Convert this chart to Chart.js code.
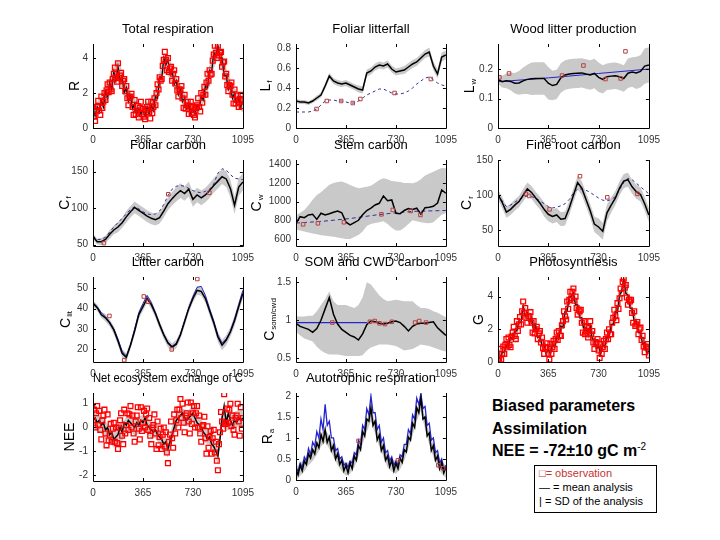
<!DOCTYPE html>
<html>
<head>
<meta charset="utf-8">
<title>Biased parameters - assimilation</title>
<script src="https://cdn.jsdelivr.net/npm/chart.js@4.4.1/dist/chart.umd.min.js"></script>
<style>
  body { margin:0; width:720px; height:540px; background:#fff; position:relative; overflow:hidden;
         font-family:"Liberation Sans", Arial, sans-serif; }
  canvas { position:absolute; }
  #note { position:absolute; left:492px; top:395px; font-size:16px; font-weight:bold; line-height:22.5px; color:#000; white-space:nowrap; }
  #note sup { font-size:10px; font-weight:normal; vertical-align:6px; line-height:0; }
  #key { position:absolute; left:534px; top:465px; width:123px; height:48px; box-sizing:border-box;
         border:1px solid #000; font-size:11px; line-height:14px; padding-left:4px; white-space:nowrap; }
</style>
</head>
<body>
<div id="note">Biased parameters<br>Assimilation<br>NEE = -72±10 gC m<sup>-2</sup></div>
<div id="key"><span style="color:#c83232">□= observation</span><br>— = mean analysis<br>| = SD of the analysis</div>
<script>
// x grid steps (days)
var MONTH = 1095 / 36, SEMI = 1095 / 72, DENSE = 1095 / 144;
var xTicks = [0, 365, 730, 1095];

// total respiration (semi-monthly mean, monthly band, dense obs)
var respMean = [1.1,0.7,1.2,0.9,1.6,1.2,2.1,1.7,2.6,2.2,3.2,2.7,3.5,2.7,2.9,2.0,2.3,1.5,1.8,1.1,1.4,0.8,1.1,0.8,1.0,
  0.7,1.2,0.8,1.3,1.0,1.8,1.7,2.9,2.8,4.0,3.6,3.9,3.1,3.3,2.5,2.7,1.9,2.2,1.5,1.7,1.1,1.3,0.8,1.1,
  0.8,1.3,1.1,1.8,1.6,2.4,2.3,3.3,3.2,4.3,4.1,4.7,4.0,4.0,3.0,3.0,2.2,2.4,1.7,2.0,1.4,1.7,1.2,1.5];
var respLo = [0.5,0.6,1.0,1.5,1.8,2.4,2.8,2.2,1.7,1.2,0.8,0.5,0.4,0.6,0.7,1.1,2.0,3.1,3.0,2.5,2.0,1.6,1.1,0.7,0.5,0.7,1.1,1.7,2.4,3.4,4.0,3.2,2.3,1.8,1.4,1.1,0.9];
var respHi = [1.4,1.5,1.9,2.4,2.9,3.5,3.9,3.3,2.6,2.1,1.7,1.4,1.3,1.5,1.6,2.2,3.2,4.3,4.2,3.6,3.0,2.5,2.0,1.6,1.4,1.6,2.1,2.8,3.6,4.6,4.8,4.4,3.4,2.8,2.3,2.0,1.8];
var respObs = [1.2,.65,.4,1.0,1.2,1.55,1.0,.75,1.8,1.15,1.5,2.0,1.6,2.15,2.5,2.05,2.6,2.2,2.1,2.8,3.1,3.45,2.9,2.65,3.7,2.85,3.0,3.15,2.4,2.7,2.8,2.1,
  2.4,1.7,1.3,1.75,1.8,1.95,1.2,.75,1.6,.8,1.0,1.25,.6,1.15,1.5,.8,1.1,.65,.5,1.05,1.2,1.5,.9,.55,1.5,.85,1.2,1.7,1.3,2.0,2.5,2.2,
  2.9,2.7,2.8,3.55,3.9,4.35,3.9,3.3,4.0,3.2,3.4,3.5,2.7,3.1,3.3,2.55,2.8,2.15,1.8,2.2,2.2,2.4,1.7,1.15,1.9,1.1,1.3,1.5,.8,1.25,1.5,.85,
  1.2,.75,.6,1.15,1.3,1.7,1.2,.95,2.0,1.45,1.9,2.35,1.9,2.6,3.1,2.7,3.3,3.05,3.1,3.85,4.2,4.7,4.3,4.0,4.7,4.15,4.3,4.35,3.5,3.75,3.8,2.95,
  3.1,2.45,2.1,2.45,2.4,2.6,1.9,1.4,2.2,1.4,1.6,1.85,1.2,1.65,1.9,1.25,1.6];

// foliar litterfall (monthly)
var lfMean = [.27,.26,.26,.25,.27,.30,.33,.42,.52,.47,.45,.44,.45,.43,.41,.39,.38,.55,.57,.61,.63,.62,.64,.59,.56,.57,.58,.61,.64,.66,.70,.74,.76,.62,.54,.71,.73];
var lfTrue = [.16,.16,.16,.16,.17,.19,.23,.27,.28,.28,.27,.27,.26,.25,.25,.27,.30,.33,.35,.37,.39,.39,.37,.35,.34,.34,.35,.37,.40,.44,.47,.50,.51,.48,.45,.43,.42];
var lfSd = [.02,.02,.02,.02,.02,.025,.025,.03,.03,.03,.03,.03,.03,.03,.03,.035,.035,.035,.035,.035,.035,.035,.035,.035,.035,.035,.04,.04,.04,.04,.04,.04,.045,.045,.045,.045,.045];
var lfObsDay = [150,225,330,415,470,720,985];
var lfObsVal = [0.19,0.27,0.27,0.25,0.29,0.35,0.49];

// wood litter production (monthly)
var wlMean = [.165,.157,.16,.158,.152,.153,.16,.165,.167,.168,.168,.168,.152,.144,.148,.17,.18,.183,.185,.186,.187,.183,.18,.185,.172,.165,.174,.176,.177,.174,.168,.186,.19,.187,.192,.21,.214];
var wlSd = [.015,.02,.025,.03,.035,.04,.045,.05,.055,.055,.055,.055,.055,.05,.05,.05,.05,.05,.05,.05,.05,.05,.05,.05,.05,.048,.045,.045,.045,.045,.045,.05,.05,.055,.055,.06,.06];
var wlTrueDay = [0,365,730,1095];
var wlTrueVal = [0.157,0.17,0.185,0.2];
var wlObsDay = [10,80,465,620,780,890,925];
var wlObsVal = [0.172,0.185,0.178,0.212,0.166,0.168,0.26];

// foliar carbon (monthly)
var cfMean = [61,54,54,57,64,70,74,80,88,95,101,97,93,89,86,84,87,96,106,113,119,124,120,126,112,118,114,118,124,131,137,143,140,127,104,129,136];
var cfTrue = [62,57,57,60,67,74,80,86,92,98,102,99,95,92,91,92,96,105,117,126,130,131,130,127,124,122,121,123,126,133,148,154,152,146,141,140,139];
var cfSd = [4,4,5,5,6,6,7,7,8,8,8,8,8,8,8,8,8,9,9,9,10,10,10,10,10,10,10,10,10,10,10,10,11,12,12,12,12];
var cfObsDay = [80,550,850];
var cfObsVal = [52,119,121];

// stem carbon (monthly)
var cwMean = [768,839,828,857,864,810,875,857,870,886,900,880,780,750,775,800,860,905,930,964,982,1060,1010,1018,875,870,905,925,915,929,865,935,940,950,985,1125,1089];
var cwLo = [700,690,680,670,660,650,640,635,630,625,615,607,600,600,620,643,680,740,760,770,780,790,760,720,690,690,720,760,800,790,780,770,768,780,820,860,875];
var cwHi = [850,880,910,960,1020,1070,1100,1140,1180,1200,1210,1214,1200,1178,1160,1143,1150,1160,1170,1200,1230,1250,1240,1220,1214,1210,1200,1200,1196,1210,1240,1280,1300,1320,1340,1360,1357];
var cwTrueDay = [0,200,400,600,730,850,1095];
var cwTrueVal = [770,790,820,860,880,895,905];
var cwObsDay = [52,160,350,624,707,838,909];
var cwObsVal = [757,768,779,864,911,900,857];

// fine root carbon (monthly)
var crMean = [101,90,76,80,86,91,100,109,104,96,89,80,73,70,72,66,67,82,100,118,110,94,78,59,55,49,75,86,96,110,120,122,112,105,101,88,72];
var crTrue = [101,92,84,86,90,94,97,99,98,96,92,88,84,82,83,85,88,94,103,109,109,107,104,100,96,93,92,94,98,108,118,124,122,117,112,107,102];
var crSd = [7,8,8,8,8,8,9,9,9,9,9,10,10,10,10,10,10,10,10,10,10,10,10,11,12,12,12,11,10,10,10,10,10,10,10,10,10];
var crObsDay = [202,226,374,595,793,1012];
var crObsVal = [102,99,80,127,97,102];

// litter carbon (monthly)
var clitMean = [42.6,40.5,37,35.5,33,29.5,24,18,16,22,29,37,41,45,42,37.5,32,27,23,21,22.5,27,33.5,40,45,49,48.5,45,39,33,26,22,24.5,28.5,34,41,47.5];
var clitTrue = [43,41,38,36,33.5,30,25,19,16.5,22,30,38,42.5,46.5,43,38,32.5,27.5,23.5,21.5,23,27.5,34,40.5,46,50.5,51,46.5,40,34,27,23,25,29,35,42,49];
var clitSd = [1.5,1.5,1.5,1.8,1.8,2,2,2,2,2,2,2,2,2,2,2,2,2,2,2,2,2,2,2,2,2.2,2.2,2.2,2.2,2.2,2.5,2.5,2.5,2.5,2.5,2.5,2.5];
var clitObsDay = [120,228,371,402,575,762];
var clitObsVal = [36.4,14.6,46,43.4,19.9,54.6];

// SOM and CWD carbon (monthly)
var somMean = [.96,.92,.9,.88,.84,.89,1.0,1.15,1.3,1.08,.95,.88,.84,.8,.78,.74,.82,.94,.99,.98,.96,.95,.96,.98,.99,.97,.92,.86,.92,.95,.96,.96,.97,.98,.9,.85,.8];
var somLo = [.85,.8,.76,.74,.72,.65,.6,.57,.55,.55,.55,.54,.53,.53,.53,.53,.54,.6,.64,.66,.68,.68,.68,.67,.66,.63,.6,.61,.62,.65,.68,.67,.66,.64,.62,.6,.59];
var somHi = [1.05,1.05,1.05,1.06,1.06,1.12,1.2,1.28,1.38,1.25,1.2,1.2,1.2,1.18,1.16,1.2,1.3,1.5,1.47,1.4,1.33,1.28,1.25,1.26,1.27,1.26,1.25,1.25,1.25,1.2,1.16,1.16,1.15,1.12,1.1,1.07,1.04];
var somTrueDay = [0,520];
var somTrueVal = [0.97,0.97];
var somObsDay = [265,540,575,610,650,700,870,900,950];
var somObsVal = [0.97,0.98,0.99,0.96,0.95,0.98,0.97,0.99,0.97];

// photosynthesis (semi-monthly mean, monthly band, dense obs)
var gppMean = [0.4,0.2,0.6,0.6,1.0,1.0,1.5,1.4,1.9,1.9,2.5,2.4,3.4,2.8,3.0,2.4,2.7,1.9,2.2,1.5,1.6,1.0,1.1,0.5,0.8,
  0.5,1.1,0.9,1.5,1.4,2.2,2.1,3.1,3.1,4.0,4.0,4.2,3.5,3.5,2.7,2.7,1.9,2.1,1.6,2.2,1.4,1.4,0.8,1.0,
  0.5,1.1,0.9,1.5,1.5,2.3,2.3,3.1,3.0,4.1,4.3,5.1,4.2,4.1,3.3,3.3,2.5,2.5,1.8,1.8,1.1,1.2,0.5,0.7];
var gppLo = [0,.2,.6,1.0,1.4,2.0,2.9,2.5,2.2,1.7,1.1,.6,.3,.6,1.0,1.7,2.6,3.5,3.7,3.0,2.2,1.6,1.7,.9,.5,.6,1.0,1.8,2.6,3.6,4.6,3.6,2.8,2.0,1.3,.7,.2];
var gppHi = [.7,.9,1.3,1.7,2.1,2.7,3.6,3.2,2.9,2.4,1.8,1.3,1.0,1.3,1.7,2.4,3.3,4.2,4.4,3.7,2.9,2.3,2.4,1.6,1.2,1.3,1.7,2.5,3.3,4.3,5.2,4.3,3.5,2.7,2.0,1.4,.9];
var gppObs = [.2,.1,.8,.15,.5,.95,.5,1.05,1.4,.95,1.5,1.05,.9,1.55,1.8,2.15,1.6,1.4,2.5,1.9,2.3,2.75,2.3,3.1,3.7,3.0,3.3,2.7,2.4,2.8,2.8,3.05,
  2.4,1.8,2.5,1.75,2.0,2.15,1.4,1.75,1.9,1.2,1.5,.85,.5,.9,.9,1.15,.5,.15,1.1,.5,.9,1.3,.8,1.4,1.8,1.35,1.9,1.6,1.6,2.25,2.5,3.1,
  2.8,2.6,3.7,3.25,3.8,4.3,3.9,4.3,4.5,3.75,4.0,3.3,2.9,3.2,3.1,3.2,2.4,1.8,2.5,1.7,1.9,2.15,1.5,2.1,2.5,1.7,1.9,1.2,.8,1.2,1.2,1.4,
  .7,.25,1.1,.5,.9,1.3,.8,1.4,1.8,1.4,2.0,1.7,1.7,2.4,2.7,3.2,2.8,2.55,3.6,3.25,3.9,4.5,4.2,4.9,5.1,4.55,4.7,3.95,3.5,3.8,3.7,3.8,
  3.0,2.4,3.1,2.2,2.3,2.45,1.7,2.0,2.1,1.35,1.6,.95,.6,.95,.9,1.1,.4];

// net ecosystem exchange (semi-monthly mean, monthly band, dense obs)
var neeMean = [.3,.4,.2,.3,.1,.2,-.1,0,-.3,-.2,-.5,-.4,-.3,0,-.2,.2,.1,.3,.2,.1,0,.2,.1,.3,.2,
  .4,.1,0,-.1,-.2,-.1,-.3,-.4,-.5,-.7,-.6,-.9,-.6,-.3,0,.3,.4,.5,.6,.4,.3,.4,.5,.6,
  .4,.2,.1,0,-.2,-.3,-.5,-.4,-.7,-.8,-1.0,-1.2,-.5,.4,.9,.2,.6,.3,.1,.3,.2,.4,.3,.4];
var neeLo = [-.05,-.15,-.25,-.45,-.65,-.85,-.65,-.55,-.25,-.15,-.35,-.25,-.15,-.25,-.45,-.45,-.75,-1.05,-1.25,-.65,-.05,.15,.05,.05,.25,-.15,-.35,-.65,-.75,-1.15,-1.55,.05,-.15,-.05,-.05,.05,.05];
var neeHi = [.65,.55,.45,.25,.05,-.15,.05,.15,.45,.55,.35,.45,.55,.45,.25,.25,-.05,-.35,-.55,.05,.65,.85,.75,.75,.95,.55,.35,.05,-.05,-.45,-.85,.75,.55,.65,.65,.75,.75];
var neeObs = [.3,.75,0,.6,.9,.1,.7,-.1,-.5,.3,.5,.75,-.25,-.75,.55,-.55,-.3,.15,-.6,-.05,.2,-.6,0,-.65,-.9,0,.3,.6,-.35,-.7,.75,-.25,
  .1,.6,-.1,.55,.9,0,.5,-.25,-.6,.25,.5,.85,-.05,-.5,.85,-.15,.2,.7,0,.55,.8,-.1,.4,-.35,-.7,0,.1,.55,-.25,-.9,.25,-.75,
  -.4,-.05,-.9,-.3,0,-.8,-.2,-1.05,-1.5,-.6,-.3,.25,-.45,-.85,.55,-.25,.3,.75,0,.75,1.2,.4,1.0,.2,-.2,.5,.6,1.05,.25,-.25,1.05,.15,
  .6,.9,0,.6,.9,0,.5,-.25,-.6,.05,.1,.45,-.45,-1.1,.05,-.85,-.4,-.15,-1.1,-.45,-.1,-1.05,-.6,-1.4,-1.8,-.7,-.2,.65,.25,-.05,1.4,.15,
  .2,.8,.2,.75,1.0,.05,.5,-.1,-.3,.4,.5,1.0,.25,-.35,.85,-.05,.4];

// autotrophic respiration (semi-monthly)
var raMean = [.25,.12,.35,.22,.45,.37,.62,.52,.72,.62,.88,.77,1.08,.92,1.2,.9,1.02,.7,.82,.5,.62,.37,.47,.22,.35,
  .17,.4,.27,.57,.47,.82,.72,1.15,1.05,1.45,1.4,1.72,1.3,1.4,.95,1.07,.7,.82,.47,.57,.32,.47,.22,.4,
  .27,.52,.42,.72,.67,1.02,.95,1.35,1.25,1.72,1.6,1.95,1.45,1.5,1.05,1.12,.7,.82,.47,.57,.27,.42,.17,.3];
var raTrue = [.3,.2,.4,.3,.55,.45,.75,.6,.9,.8,1.15,1.0,1.45,1.2,1.8,1.3,1.4,1.0,1.0,.7,.75,.5,.55,.35,.4,
  .3,.45,.4,.65,.6,.95,.85,1.3,1.2,1.7,1.55,2.0,1.6,1.6,1.2,1.3,.9,1.0,.65,.7,.45,.55,.35,.45,
  .35,.6,.55,.85,.85,1.2,1.1,1.55,1.45,1.95,1.8,2.05,1.7,1.75,1.3,1.35,.95,1.0,.65,.7,.4,.5,.25,.35];
var raLo = [0,.1,.2,.35,.45,.6,.8,.9,.75,.55,.35,.2,.1,.15,.3,.55,.85,1.15,1.4,1.1,.8,.55,.3,.2,.15,.25,.45,.75,1.05,1.4,1.65,1.2,.85,.55,.3,.15,.05];
var raHi = [.3,.4,.5,.65,.75,.9,1.1,1.2,1.05,.85,.65,.5,.4,.45,.6,.85,1.15,1.45,1.7,1.4,1.1,.85,.6,.5,.45,.55,.75,1.05,1.35,1.7,1.95,1.5,1.15,.85,.6,.45,.35];
var raObsDay = [457,745,1040,1075];
var raObsVal = [0.93,0.47,0.35,0.28];

var FONT = '"Liberation Sans", Arial, sans-serif';
var GREY = '#c9c9c9', NAVY = '#33309a', BLUE = '#2424d0', RED = '#ff0000', DRED = '#b84040';

function grid(vals, step) { return vals.map(function (v, i) { return {x: i * step, y: v}; }); }
function pairs(days, vals) { return vals.map(function (v, i) { return {x: days[i], y: v}; }); }
function minus(a, b) { return a.map(function (v, i) { return v - b[i]; }); }
function plus(a, b) { return a.map(function (v, i) { return v + b[i]; }); }

function band(lo, hi, step) {
	return [
		{data: grid(hi, step), fill: '+1', backgroundColor: GREY, borderWidth: 0, pointRadius: 0, order: 4},
		{data: grid(lo, step), fill: false, borderWidth: 0, pointRadius: 0, order: 5}
	];
}
function line(data, color, width, dash, order) {
	return {data: data, borderColor: color, borderWidth: width, borderDash: dash || [], pointRadius: 0, fill: false, order: order};
}
function obs(data, color, r, bw) {
	return {data: data, showLine: false, pointStyle: 'rect', pointRadius: r, pointBorderColor: color,
		pointBackgroundColor: 'rgba(0,0,0,0)', pointBorderWidth: bw || 1, order: 0};
}

// axis box: left, bottom and right lines, inward ticks on all four sides
var frame = {
	id: 'frame',
	afterDatasetsDraw: function (c) {
		var ctx = c.ctx, a = c.chartArea, x = c.scales.x, y = c.scales.y;
		ctx.save();
		ctx.strokeStyle = '#000';
		ctx.lineWidth = 1;
		ctx.beginPath();
		ctx.moveTo(Math.round(a.left) + .5, a.top);
		ctx.lineTo(Math.round(a.left) + .5, Math.round(a.bottom) + .5);
		ctx.lineTo(Math.round(a.right) + .5, Math.round(a.bottom) + .5);
		ctx.lineTo(Math.round(a.right) + .5, a.top);
		y.ticks.forEach(function (t) {
			var p = Math.round(y.getPixelForValue(t.value)) + .5;
			ctx.moveTo(a.left, p); ctx.lineTo(a.left + 3, p);
			ctx.moveTo(a.right, p); ctx.lineTo(a.right - 3, p);
		});
		x.ticks.forEach(function (t) {
			var p = Math.round(x.getPixelForValue(t.value)) + .5;
			ctx.moveTo(p, a.bottom); ctx.lineTo(p, a.bottom - 3);
			ctx.moveTo(p, a.top); ctx.lineTo(p, a.top + 3);
		});
		ctx.stroke();
		ctx.restore();
	}
};

// rotated y label with a subscript
var ylab = {
	id: 'ylab',
	afterDraw: function (c, args, o) {
		var ctx = c.ctx, a = c.chartArea;
		ctx.save();
		ctx.translate(a.left - o.dx, (a.top + a.bottom) / 2);
		ctx.rotate(-Math.PI / 2);
		ctx.fillStyle = '#000';
		ctx.textBaseline = 'middle';
		ctx.textAlign = 'left';
		ctx.font = '14px ' + FONT;
		var mw = ctx.measureText(o.main).width;
		ctx.font = '8px ' + FONT;
		var sw = o.sub ? ctx.measureText(o.sub).width + 1 : 0;
		var x0 = -(mw + sw) / 2;
		ctx.font = '14px ' + FONT;
		ctx.fillText(o.main, x0, 0);
		if (o.sub) {
			ctx.font = '8px ' + FONT;
			ctx.fillText(o.sub, x0 + mw + 1, 4);
		}
		ctx.restore();
	}
};

var panels = [
	{x: 93, y: 44, w: 153, h: 84, title: 'Total respiration', lab: ['R', '', 18], ymin: 0, ymax: 4.8, yt: [0, 2, 4],
	 sets: band(respLo, respHi, MONTH).concat([line(grid(respMean, SEMI), '#000', 1.3, null, 1), obs(grid(respObs, DENSE), RED, 3.4, 1.3)])},
	{x: 296, y: 44, w: 153, h: 84, title: 'Foliar litterfall', lab: ['L', 'f', 30], ymin: 0, ymax: 0.84, yt: [0, 0.2, 0.4, 0.6, 0.8],
	 sets: band(minus(lfMean, lfSd), plus(lfMean, lfSd), MONTH).concat([line(grid(lfTrue, MONTH), NAVY, 1, [3, 3], 2),
		line(grid(lfMean, MONTH), '#000', 1.5, null, 1), obs(pairs(lfObsDay, lfObsVal), DRED, 2.5)])},
	{x: 498, y: 44, w: 154, h: 84, title: 'Wood litter production', lab: ['L', 'w', 28], ymin: 0, ymax: 0.285, yt: [0, 0.1, 0.2],
	 sets: band(minus(wlMean, wlSd), plus(wlMean, wlSd), MONTH).concat([line(pairs(wlTrueDay, wlTrueVal), BLUE, 1, null, 2),
		line(grid(wlMean, MONTH), '#000', 1.5, null, 1), obs(pairs(wlObsDay, wlObsVal), DRED, 2.5)])},

	{x: 93, y: 160, w: 153, h: 86, title: 'Foliar carbon', lab: ['C', 'f', 28], ymin: 48, ymax: 166, yt: [50, 100, 150],
	 sets: band(minus(cfMean, cfSd), plus(cfMean, cfSd), MONTH).concat([line(grid(cfTrue, MONTH), NAVY, 1, [3, 3], 2),
		line(grid(cfMean, MONTH), '#000', 1.5, null, 1), obs(pairs(cfObsDay, cfObsVal), DRED, 2.5)])},
	{x: 296, y: 160, w: 153, h: 86, title: 'Stem carbon', lab: ['C', 'w', 39], ymin: 525, ymax: 1445, yt: [600, 800, 1000, 1200, 1400],
	 sets: band(cwLo, cwHi, MONTH).concat([line(pairs(cwTrueDay, cwTrueVal), NAVY, 1, [4, 3], 2),
		line(grid(cwMean, MONTH), '#000', 1.5, null, 1), obs(pairs(cwObsDay, cwObsVal), DRED, 2.5)])},
	{x: 498, y: 160, w: 154, h: 86, title: 'Fine root carbon', lab: ['C', 'r', 31], ymin: 28, ymax: 150, yt: [50, 100, 150],
	 sets: band(minus(crMean, crSd), plus(crMean, crSd), MONTH).concat([line(grid(crTrue, MONTH), NAVY, 1, [3, 3], 2),
		line(grid(crMean, MONTH), '#000', 1.5, null, 1), obs(pairs(crObsDay, crObsVal), DRED, 2.5)])},

	{x: 93, y: 277, w: 153, h: 85, title: 'Litter carbon', lab: ['C', 'lit', 27], ymin: 13.7, ymax: 55.6, yt: [20, 30, 40, 50],
	 sets: band(minus(clitMean, clitSd), plus(clitMean, clitSd), MONTH).concat([line(grid(clitTrue, MONTH), BLUE, 1, null, 2),
		line(grid(clitMean, MONTH), '#000', 1.5, null, 1), obs(pairs(clitObsDay, clitObsVal), DRED, 2.5)])},
	{x: 296, y: 277, w: 153, h: 85, title: 'SOM and CWD carbon', lab: ['C', 'som/cwd', 26], ymin: 0.45, ymax: 1.57, yt: [0.5, 1, 1.5],
	 sets: band(somLo, somHi, MONTH).concat([line(pairs(somTrueDay, somTrueVal), BLUE, 1.2, null, 2),
		line(grid(somMean, MONTH), '#000', 1.5, null, 1), obs(pairs(somObsDay, somObsVal), DRED, 2.5)])},
	{x: 498, y: 277, w: 154, h: 85, title: 'Photosynthesis', lab: ['G', '', 19], ymin: 0, ymax: 5.2, yt: [0, 2, 4],
	 sets: band(gppLo, gppHi, MONTH).concat([line(grid(gppMean, SEMI), '#000', 1.3, null, 1), obs(grid(gppObs, DENSE), RED, 3.4, 1.3)])},

	{x: 93, y: 393, w: 153, h: 88, title: 'Net ecosystem exchange of C', lab: ['NEE', '', 23], ymin: -2.25, ymax: 1.45, yt: [-2, -1, 0, 1],
	 sets: band(neeLo, neeHi, MONTH).concat([line(grid(neeMean, SEMI), '#000', 1.5, null, 1), obs(grid(neeObs, DENSE), RED, 3.4, 1.3)])},
	{x: 296, y: 393, w: 153, h: 87, title: 'Autotrophic respiration', lab: ['R', 'a', 28], ymin: 0, ymax: 2.07, yt: [0, 0.5, 1, 1.5, 2],
	 sets: band(raLo, raHi, MONTH).concat([line(grid(raTrue, SEMI), BLUE, 1.3, null, 2),
		line(grid(raMean, SEMI), '#000', 1.5, null, 1), obs(pairs(raObsDay, raObsVal), DRED, 2.5)])}
];

function makePanel(p) {
	var cv = document.createElement('canvas');
	cv.width = p.w + 59;
	cv.height = p.h + 50;
	cv.style.left = (p.x - 45) + 'px';
	cv.style.top = (p.y - 30) + 'px';
	document.body.appendChild(cv);
	var tickFont = {family: FONT, size: 10};
	new Chart(cv.getContext('2d'), {
		type: 'line',
		data: {datasets: p.sets},
		options: {
			responsive: false,
			animation: false,
			devicePixelRatio: 1,
			layout: {padding: {left: 0, right: 14, top: 0, bottom: 0}},
			plugins: {
				legend: {display: false},
				tooltip: {enabled: false},
				title: {display: true, text: p.title, fullSize: false, color: '#000',
					font: {family: FONT, size: 13, weight: 'normal'}, padding: {top: 8, bottom: 6.4}},
				ylab: {main: p.lab[0], sub: p.lab[1], dx: p.lab[2]}
			},
			scales: {
				x: {
					type: 'linear', min: 0, max: 1095,
					afterBuildTicks: function (a) { a.ticks = xTicks.map(function (v) { return {value: v}; }); },
					afterFit: function (s) { s.height = 20; },
					grid: {display: false, drawTicks: false},
					border: {display: false},
					ticks: {padding: 6, font: tickFont, color: '#333', maxRotation: 0, autoSkip: false,
						callback: function (v) { return String(v); }}
				},
				y: {
					type: 'linear', min: p.ymin, max: p.ymax,
					afterBuildTicks: function (a) { a.ticks = p.yt.map(function (v) { return {value: v}; }); },
					afterFit: function (s) { s.width = 45; },
					grid: {display: false, drawTicks: false},
					border: {display: false},
					ticks: {padding: 5, font: tickFont, color: '#333',
						callback: function (v) { return String(v); }}
				}
			}
		},
		plugins: [frame, ylab]
	});
}

panels.forEach(makePanel);
</script>
</body>
</html>
